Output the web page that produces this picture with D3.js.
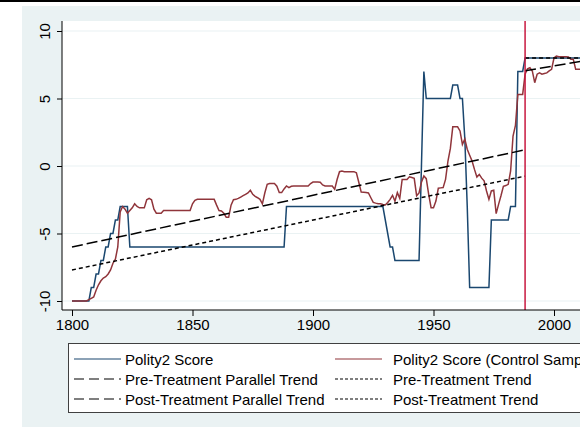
<!DOCTYPE html>
<html>
<head>
<meta charset="utf-8">
<script src="https://cdn.jsdelivr.net/npm/d3@7"></script>
<style>
  body { margin: 0; background: #fff; }
  svg { display: block; overflow: hidden; font-family: "Liberation Sans", Arial, sans-serif; }
</style>
</head>
<body>
<div id="chart"></div>
<script>
// years 1800..2012, one value per year
const firstYear = 1800;
const polity = [
  -10,-10,-10,-10,-10,-10,-10,-10,-9,-9,
  -8,-8,-7,-7,-6,-6,-5,-5,-4,-4,
  -3,-3,-3,-3,-6,-6,-6,-6,-6,-6,
  -6,-6,-6,-6,-6,-6,-6,-6,-6,-6,
  -6,-6,-6,-6,-6,-6,-6,-6,-6,-6,
  -6,-6,-6,-6,-6,-6,-6,-6,-6,-6,
  -6,-6,-6,-6,-6,-6,-6,-6,-6,-6,
  -6,-6,-6,-6,-6,-6,-6,-6,-6,-6,
  -6,-6,-6,-6,-6,-6,-6,-6,-6,-3,
  -3,-3,-3,-3,-3,-3,-3,-3,-3,-3,
  -3,-3,-3,-3,-3,-3,-3,-3,-3,-3,
  -3,-3,-3,-3,-3,-3,-3,-3,-3,-3,
  -3,-3,-3,-3,-3,-3,-3,-3,-3,-3,
  -4,-5,-6,-6,-7,-7,-7,-7,-7,-7,
  -7,-7,-7,-7,-7,0,7,5,5,5,
  5,5,5,5,5,5,5,5,6,6,
  6,5,5,2,-3,-9,-9,-9,-9,-9,
  -9,-9,-9,-9,-4,-4,-4,-4,-4,-4,
  -4,-4,-3,-3,-3,7,7,7,8,8,
  8,8,8,8,8,8,8,8,8,8,
  8,8,8,8,8,8,8,8,8,8,
  8,8,8
];
const control = [
  -10,-10,-10,-10,-10,-10,-10,-9.9,-9.8,-9.7,
  -9.2,-8.8,-8.5,-8.3,-8.2,-8.0,-7.7,-7.2,-6.9,-6.0,
  -3.4,-3.0,-3.2,-3.5,-3.3,-3.1,-2.8,-3.0,-3.1,-3.1,
  -3.1,-2.5,-2.4,-2.5,-3.2,-3.5,-3.5,-3.5,-3.3,-3.3,
  -3.3,-3.3,-3.3,-3.3,-3.3,-3.3,-3.3,-3.3,-3.3,-3.3,
  -2.8,-2.55,-2.47,-2.47,-2.47,-2.47,-2.47,-2.47,-2.47,-2.47,
  -2.9,-3.3,-3.33,-3.5,-3.8,-3.8,-2.9,-2.5,-2.47,-2.4,
  -2.3,-2.2,-2.1,-2.0,-1.8,-2.1,-2.25,-2.35,-2.47,-2.8,
  -2.0,-1.36,-1.3,-1.3,-1.3,-1.5,-1.97,-1.97,-1.7,-1.48,
  -1.6,-1.5,-1.48,-1.48,-1.48,-1.48,-1.48,-1.48,-1.48,-1.3,
  -1.19,-1.19,-1.19,-1.2,-1.4,-1.48,-1.48,-1.48,-1.48,-1.73,
  -1.0,-0.42,-0.37,-0.42,-0.42,-0.42,-0.42,-0.42,-0.5,-1.2,
  -1.93,-1.95,-1.97,-2.0,-2.35,-2.7,-2.75,-2.79,-2.79,-2.85,
  -2.89,-2.7,-2.47,-2.17,-2.6,-1.97,-2.4,-1.0,-1.0,-1.0,
  -0.8,-0.85,-0.91,-2.2,-2.0,-1.2,-0.74,-0.94,-2.1,-3.09,
  -3.09,-2.6,-1.65,-1.62,-1.6,-0.99,0.37,1.3,2.9,2.9,
  2.9,2.6,1.6,2.0,1.24,0.8,0.37,-0.25,-0.81,-0.62,
  -0.9,-1.1,-1.85,-2.47,-1.85,-1.8,-3.53,-2.84,-2.2,-1.5,
  -1.45,-1.36,-0.37,2.22,3.0,5.3,5.3,5.3,6.8,7.2,
  7.28,7.04,6.17,6.8,6.9,6.8,6.85,6.9,7.04,7.16,
  8.0,8.15,8.1,8.1,8.1,8.1,8.07,7.9,7.9,7.16,
  7.16,7.16,7.2
];
// trend lines as [year, value] end points
const preParallel = [[1800, -6.0], [1988, 1.2]];
const preTrend = [[1800, -7.7], [1988, -0.75]];
const postParallel = [[1988, 7.05], [2012, 7.78]];
const postTrend = [[1988, 8], [2012, 8]];
const treatYear = 1988;
const xTicks = [1800, 1850, 1900, 1950, 2000];
const yTicks = [-10, -5, 0, 5, 10];
const legendItems = [
  "Polity2 Score", "Polity2 Score (Control Sample)",
  "Pre-Treatment Parallel Trend", "Pre-Treatment Trend",
  "Post-Treatment Parallel Trend", "Post-Treatment Trend"
];

const W = 580, H = 427;
const plot = {left: 62, top: 21, right: 640, bottom: 310};
const bg = "#eaf2f3", navy = "#1a476f", maroon = "#90353b";

const svg = d3.select("#chart").append("svg")
  .attr("width", W).attr("height", H);

svg.append("rect").attr("width", W).attr("height", H).attr("fill", "#fff");
svg.append("rect").attr("width", W).attr("height", 2).attr("fill", "#000");
svg.append("rect").attr("x", 22).attr("y", 6).attr("width", 700).attr("height", H)
  .attr("fill", bg);
svg.append("rect").attr("x", plot.left).attr("y", plot.top)
  .attr("width", plot.right - plot.left).attr("height", plot.bottom - plot.top)
  .attr("fill", "#fff");

const x = d3.scaleLinear().domain([1800, 2000]).range([72, 554]);
const y = d3.scaleLinear().domain([-10, 10]).range([301, 31]);

// grid
svg.append("g").selectAll("line").data(yTicks).enter().append("line")
  .attr("x1", plot.left).attr("x2", plot.right)
  .attr("y1", d => y(d)).attr("y2", d => y(d))
  .attr("stroke", bg).attr("stroke-width", 1.2);

const line = d3.line().x(d => x(d[0])).y(d => y(d[1]));
const series = arr => arr.map((v, i) => [firstYear + i, v]);

svg.append("path").attr("d", line(series(polity)))
  .attr("fill", "none").attr("stroke", navy).attr("stroke-width", 1.5);
svg.append("path").attr("d", line(series(control)))
  .attr("fill", "none").attr("stroke", maroon).attr("stroke-width", 1.5);

const longDash = "11,4", shortDash = "4,3";
[[preParallel, longDash], [preTrend, shortDash], [postParallel, longDash], [postTrend, shortDash]]
  .forEach(function (t) {
    svg.append("path").attr("d", line(t[0]))
      .attr("fill", "none").attr("stroke", "#000")
      .attr("stroke-width", 1.5).attr("stroke-dasharray", t[1]);
  });

svg.append("line")
  .attr("x1", x(treatYear)).attr("x2", x(treatYear))
  .attr("y1", plot.top).attr("y2", plot.bottom)
  .attr("stroke", "#c8183f").attr("stroke-width", 1.5);

// axes
const xAxis = svg.append("g")
  .attr("transform", "translate(0," + plot.bottom + ")")
  .call(d3.axisBottom(x).tickValues(xTicks).tickFormat(d3.format("d")).tickSize(6).tickSizeOuter(0));
xAxis.select(".domain").attr("d", "M" + plot.left + ",0H" + plot.right).attr("stroke", "#000");
xAxis.selectAll("text").attr("font-size", 15).attr("fill", "#000").attr("dy", "1.05em").attr("y", 4);
xAxis.selectAll(".tick line").attr("stroke", "#000");

const yAxis = svg.append("g")
  .attr("transform", "translate(" + plot.left + ",0)")
  .call(d3.axisLeft(y).tickValues(yTicks).tickFormat(d => String(d)).tickSize(5).tickSizeOuter(0));
yAxis.select(".domain").attr("d", "M0," + plot.top + "V" + plot.bottom).attr("stroke", "#000");
yAxis.selectAll(".tick line").attr("stroke", "#000");
yAxis.selectAll("text")
  .attr("x", null).attr("dy", null)
  .attr("font-size", 15).attr("fill", "#000")
  .attr("text-anchor", "middle")
  .attr("transform", "translate(-12.5,0) rotate(-90)");

// legend
const lg = svg.append("g");
lg.append("rect").attr("x", 68.5).attr("y", 343.5).attr("width", 620).attr("height", 69)
  .attr("fill", "#fff").attr("stroke", "#404040").attr("stroke-width", 1);
const styles = [
  {stroke: navy, dash: null}, {stroke: maroon, dash: null},
  {stroke: "#000", dash: "10,5"}, {stroke: "#000", dash: "3,2"},
  {stroke: "#000", dash: "10,5"}, {stroke: "#000", dash: "3,2"}
];
legendItems.forEach(function (name, i) {
  const col = i % 2, row = Math.floor(i / 2);
  const lx = col ? 335 : 74, ly = 359 + row * 20;
  lg.append("line").attr("x1", lx).attr("x2", lx + 47).attr("y1", ly).attr("y2", ly)
    .attr("stroke", styles[i].stroke).attr("stroke-width", 1.2)
    .attr("stroke-dasharray", styles[i].dash);
  lg.append("text").attr("x", col ? 393 : 125).attr("y", ly + 5.5)
    .attr("font-size", 15).attr("fill", "#000").text(name);
});
</script>
</body>
</html>
